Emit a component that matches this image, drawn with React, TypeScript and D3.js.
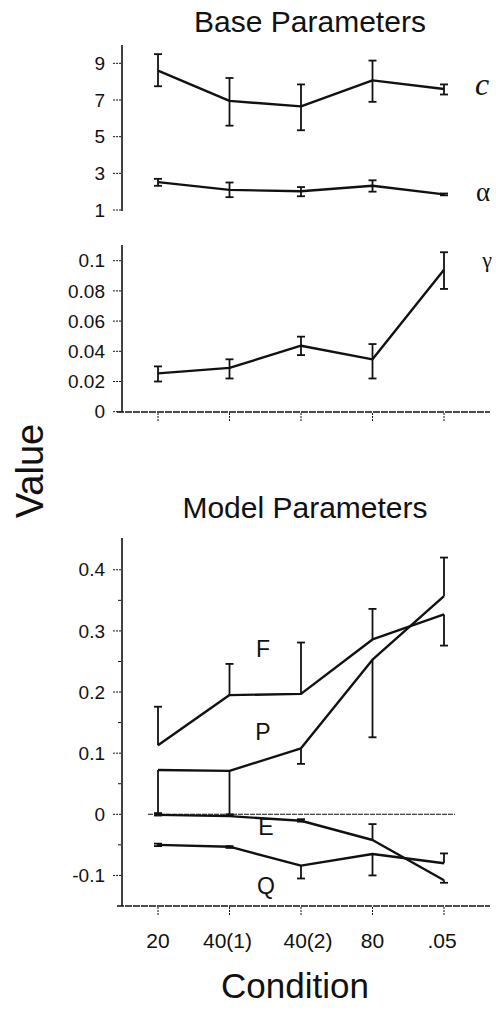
import React from "react";
import * as d3 from "d3";

const conditions = ["20", "40(1)", "40(2)", "80", ".05"];
const conditionLabelOffsets = [0, -2, 7, 0, -2];

// Base parameters
const cValues = [8.6, 6.95, 6.65, 8.07, 7.6];
const cErrLow = [7.75, 5.6, 5.35, 6.9, 7.3];
const cErrHigh = [9.5, 8.2, 7.85, 9.15, 7.85];

const alphaValues = [2.52, 2.1, 2.02, 2.32, 1.85];
const alphaErrLow = [2.32, 1.7, 1.75, 2.0, 1.8];
const alphaErrHigh = [2.7, 2.5, 2.25, 2.62, 1.9];

const gammaValues = [0.0254, 0.029, 0.0437, 0.0347, 0.094];
const gammaErrLow = [0.02, 0.022, 0.0375, 0.022, 0.0813];
const gammaErrHigh = [0.03, 0.0347, 0.0497, 0.0448, 0.1056];

// Model parameters
const fValues = [0.113, 0.195, 0.197, 0.286, 0.327];
const fErrLow = [0.113, 0.195, 0.197, 0.286, 0.276];
const fErrHigh = [0.176, 0.246, 0.281, 0.336, 0.327];

const pValues = [0.0726, 0.071, 0.108, 0.253, 0.357];
const pErrLow = [0.0, 0.0, 0.0825, 0.126, 0.357];
const pErrHigh = [0.0726, 0.071, 0.108, 0.253, 0.42];

const eValues = [-0.001, -0.003, -0.0105, -0.042, -0.108];
const eErrLow = [-0.002, -0.003, -0.012, -0.042, -0.112];
const eErrHigh = [0.002, -0.002, -0.008, -0.016, -0.108];

const qValues = [-0.05, -0.053, -0.084, -0.065, -0.08];
const qErrLow = [-0.052, -0.055, -0.105, -0.1, -0.08];
const qErrHigh = [-0.048, -0.052, -0.084, -0.065, -0.064];

const baseTicks = [1, 3, 5, 7, 9];
const gammaTicks = [0, 0.02, 0.04, 0.06, 0.08, 0.1];
const gammaTickLabels = ["0", "0.02", "0.04", "0.06", "0.08", "0.1"];
const modelTicks = [-0.1, 0, 0.1, 0.2, 0.3, 0.4];
const modelTickLabels = ["-0.1", "0", "0.1", "0.2", "0.3", "0.4"];
const modelMinorTicks = [-0.05, 0.05, 0.15, 0.25, 0.35];

const FONT = "'Liberation Sans', Arial, Helvetica, sans-serif";
const SERIF = "'Liberation Serif', 'Times New Roman', serif";
const INK = "#111";

const x = d3.scalePoint<string>().domain(conditions).range([158, 444]);

const yBase = d3.scaleLinear().domain([1, 10]).range([210, 45]);
const yGamma = d3.scaleLinear().domain([0, 0.1104]).range([411.7, 245]);
const yModel = d3.scaleLinear().domain([-0.15, 0.452]).range([906, 538]);

type Scale = d3.ScaleLinear<number, number>;

function Series({ vals, lo, hi, y }: { vals: number[]; lo: number[]; hi: number[]; y: Scale }) {
  const line = d3
    .line<number>()
    .x((_, i) => x(conditions[i]) as number)
    .y((d) => y(d));
  return (
    <g>
      <path d={line(vals) || ""} fill="none" stroke={INK} strokeWidth={2.4} strokeLinejoin="round" />
      {vals.map((v, i) => {
        const cx = x(conditions[i]) as number;
        const y1 = y(lo[i]);
        const y2 = y(hi[i]);
        if (Math.abs(y1 - y2) < 0.5) return null;
        return (
          <g key={i} stroke={INK} strokeWidth={1.8}>
            <line x1={cx} x2={cx} y1={y1} y2={y2} />
            {lo[i] !== v && <line x1={cx - 4} x2={cx + 4} y1={y1} y2={y1} />}
            {hi[i] !== v && <line x1={cx - 4} x2={cx + 4} y1={y2} y2={y2} />}
          </g>
        );
      })}
    </g>
  );
}

function YAxis({
  y,
  ticks,
  labels,
  top,
  bottom,
  minor,
}: {
  y: Scale;
  ticks: number[];
  labels: string[];
  top: number;
  bottom: number;
  minor?: number[];
}) {
  return (
    <g>
      <line x1={122} x2={122} y1={top} y2={bottom} stroke={INK} strokeWidth={1.6} />
      {ticks.map((t, i) => (
        <g key={i}>
          <line x1={113} x2={121} y1={y(t)} y2={y(t)} stroke={INK} strokeWidth={1} strokeDasharray="2 1" />
          <text x={105} y={y(t)} dy="0.35em" textAnchor="end" fontSize={19} fontFamily={FONT} fill={INK}>
            {labels[i]}
          </text>
        </g>
      ))}
      {(minor || []).map((t, i) => (
        <line key={"m" + i} x1={118} x2={121} y1={y(t)} y2={y(t)} stroke={INK} strokeWidth={1} />
      ))}
    </g>
  );
}

function XAxis({ yPos }: { yPos: number }) {
  return (
    <g>
      <line x1={117} x2={490} y1={yPos} y2={yPos} stroke={INK} strokeWidth={1.5} strokeDasharray="7 1" />
      {conditions.map((c) => (
        <line
          key={c}
          x1={x(c) as number}
          x2={x(c) as number}
          y1={yPos + 1}
          y2={yPos + 9}
          stroke={INK}
          strokeWidth={1}
          strokeDasharray="2 1"
        />
      ))}
    </g>
  );
}

export default function App() {
  return (
    <svg
      width={496}
      height={1013}
      style={{ position: "absolute", left: 0, top: 0, background: "#fff" }}
      fontFamily={FONT}
    >
      <rect x={0} y={0} width={496} height={1013} fill="#fff" />
      {/* Base Parameters */}
      <text x={310} y={32} textAnchor="middle" fontSize={30} fill={INK}>
        Base Parameters
      </text>
      <YAxis y={yBase} ticks={baseTicks} labels={baseTicks.map(String)} top={45} bottom={211} />
      <Series vals={cValues} lo={cErrLow} hi={cErrHigh} y={yBase} />
      <Series vals={alphaValues} lo={alphaErrLow} hi={alphaErrHigh} y={yBase} />
      <text x={482} y={95} textAnchor="middle" fontSize={32} fontStyle="italic" fontFamily={SERIF} fill={INK}>
        c
      </text>
      <text x={483} y={201} textAnchor="middle" fontSize={27} fontFamily={SERIF} fill={INK}>
        α
      </text>

      {/* gamma */}
      <YAxis y={yGamma} ticks={gammaTicks} labels={gammaTickLabels} top={245} bottom={412} />
      <XAxis yPos={412} />
      <Series vals={gammaValues} lo={gammaErrLow} hi={gammaErrHigh} y={yGamma} />
      <text x={487} y={267} textAnchor="middle" fontSize={22} fontFamily={SERIF} fill={INK}>
        γ
      </text>

      {/* Value label */}
      <text transform="translate(43,471) rotate(-90)" textAnchor="middle" fontSize={38} fill={INK}>
        Value
      </text>

      {/* Model Parameters */}
      <text x={305} y={518} textAnchor="middle" fontSize={30} fill={INK}>
        Model Parameters
      </text>
      <YAxis
        y={yModel}
        ticks={modelTicks}
        labels={modelTickLabels}
        top={538}
        bottom={906}
        minor={modelMinorTicks}
      />
      <line
        x1={148}
        x2={455}
        y1={yModel(0)}
        y2={yModel(0)}
        stroke={INK}
        strokeWidth={1.1}
        strokeDasharray="5 1"
      />
      <XAxis yPos={906} />
      <Series vals={fValues} lo={fErrLow} hi={fErrHigh} y={yModel} />
      <Series vals={pValues} lo={pErrLow} hi={pErrHigh} y={yModel} />
      <Series vals={eValues} lo={eErrLow} hi={eErrHigh} y={yModel} />
      <Series vals={qValues} lo={qErrLow} hi={qErrHigh} y={yModel} />
      <text x={263} y={657} textAnchor="middle" fontSize={23} fill={INK}>F</text>
      <text x={263} y={740} textAnchor="middle" fontSize={23} fill={INK}>P</text>
      <text x={266} y={835} textAnchor="middle" fontSize={23} fill={INK}>E</text>
      <text x={266} y={894} textAnchor="middle" fontSize={23} fill={INK}>Q</text>

      {conditions.map((c, i) => (
        <text
          key={c}
          x={(x(c) as number) + conditionLabelOffsets[i]}
          y={948}
          textAnchor="middle"
          fontSize={21}
          fill={INK}
        >
          {c}
        </text>
      ))}
      <text x={295} y={998} textAnchor="middle" fontSize={35} fill={INK}>
        Condition
      </text>
    </svg>
  );
}
